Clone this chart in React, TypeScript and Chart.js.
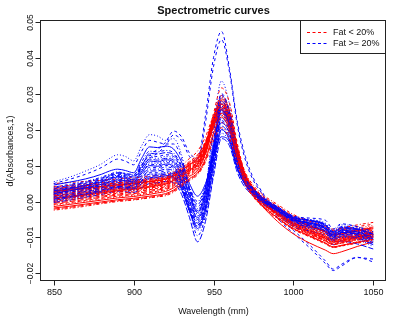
import React, { useEffect, useRef } from "react";
import { Chart, registerables } from "chart.js";

Chart.register(...registerables);

// Wavelengths (nm) at which the curves are sampled
const wavelengths = [850, 860, 870, 880, 885, 890, 895, 900, 905, 910, 915, 920, 925, 930, 935, 940, 945, 950, 955, 960, 965, 970, 975, 980, 990, 1000, 1010, 1020, 1025, 1030, 1040, 1050];

// d(Absorbances,1) values, in units of 1e-3, Fat < 20%
const redCurves: number[][] = [
  [-2.4, -1.9, -1.3, -0.6, -0.3, 0.0, 0.2, 0.4, 0.7, 1.0, 1.3, 1.6, 2.6, 4.2, 5.8, 7.4, 11.0, 17.0, 20.5, 17.5, 10.5, 4.5, 1.2, -1.2, -4.8, -7.8, -9.8, -11.8, -12.8, -12.4, -11.6, -10.8],
  [-1.8, -1.3, -0.7, -0.1, 0.2, 0.5, 0.7, 0.9, 1.2, 1.5, 1.8, 2.2, 3.2, 4.8, 6.4, 8.0, 12.0, 19.0, 23.5, 20.0, 12.0, 5.2, 1.6, -0.8, -4.5, -7.5, -9.5, -11.5, -12.6, -12.2, -11.3, -10.5],
  [-1.0, -0.5, 0.1, 0.7, 1.0, 1.3, 1.5, 1.7, 2.0, 2.3, 2.7, 3.1, 4.0, 5.5, 7.2, 8.8, 13.0, 21.0, 26.0, 22.5, 13.0, 5.6, 2.0, -0.5, -4.0, -7.0, -9.0, -11.0, -12.0, -11.6, -10.8, -10.0],
  [-0.5, 0.0, 0.6, 1.2, 1.5, 1.8, 2.0, 2.2, 2.5, 2.8, 3.2, 3.6, 4.6, 6.1, 7.8, 9.4, 13.5, 20.5, 24.5, 21.0, 12.5, 5.8, 2.3, 0.0, -3.5, -6.5, -8.5, -10.3, -11.3, -11.0, -10.2, -9.6],
  [0.0, 0.5, 1.1, 1.7, 2.0, 2.3, 2.5, 2.7, 3.0, 3.3, 3.7, 4.1, 5.1, 6.6, 8.2, 9.8, 14.0, 22.0, 27.5, 24.0, 14.5, 6.5, 2.5, 0.0, -3.8, -7.0, -9.2, -11.0, -12.0, -11.5, -10.5, -9.8],
  [0.4, 0.9, 1.5, 2.1, 2.4, 2.7, 2.9, 3.1, 3.4, 3.7, 4.1, 4.5, 5.5, 6.9, 8.4, 10.0, 14.5, 22.5, 27.0, 23.0, 13.5, 6.0, 2.2, -0.3, -3.6, -6.6, -8.6, -10.4, -11.4, -11.0, -10.0, -9.2],
  [0.8, 1.3, 1.8, 2.4, 2.7, 3.0, 3.2, 3.4, 3.7, 4.0, 4.4, 4.8, 5.8, 7.2, 8.7, 10.3, 14.5, 21.5, 25.5, 22.0, 13.0, 6.0, 2.4, 0.0, -3.2, -6.0, -8.0, -9.8, -10.8, -10.4, -9.6, -9.0],
  [1.2, 1.7, 2.2, 2.8, 3.1, 3.4, 3.6, 3.8, 4.1, 4.4, 4.8, 5.2, 6.1, 7.5, 9.0, 10.6, 15.0, 23.5, 29.0, 25.0, 15.0, 7.0, 2.8, 0.2, -3.4, -6.6, -8.8, -10.6, -11.6, -11.2, -10.2, -9.5],
  [1.6, 2.0, 2.5, 3.0, 3.3, 3.6, 3.8, 4.0, 4.3, 4.6, 5.0, 5.4, 6.3, 7.7, 9.2, 10.8, 14.8, 21.0, 24.5, 21.0, 12.5, 6.0, 2.8, 0.5, -2.8, -5.8, -7.8, -9.5, -10.5, -10.1, -9.3, -8.6],
  [2.0, 2.4, 2.9, 3.4, 3.7, 4.0, 4.2, 4.4, 4.7, 5.0, 5.3, 5.7, 6.6, 8.0, 9.5, 11.1, 15.5, 24.5, 31.6, 27.5, 16.0, 7.5, 3.2, 0.5, -3.3, -6.5, -8.8, -10.8, -11.8, -11.4, -10.3, -9.6],
  [2.4, 2.8, 3.2, 3.7, 4.0, 4.3, 4.5, 4.7, 5.0, 5.3, 5.6, 6.0, 6.9, 8.3, 9.8, 11.4, 15.5, 22.5, 26.5, 22.5, 13.5, 6.8, 3.2, 0.8, -2.5, -5.4, -7.4, -9.0, -10.0, -9.7, -8.9, -8.2],
  [2.8, 3.2, 3.6, 4.1, 4.4, 4.6, 4.8, 5.0, 5.3, 5.5, 5.8, 6.2, 7.1, 8.6, 10.2, 11.8, 16.0, 23.0, 27.0, 23.0, 14.0, 7.2, 3.6, 1.2, -2.0, -4.9, -6.9, -8.5, -9.4, -9.1, -8.3, -7.6],
  [3.2, 3.6, 4.0, 4.4, 4.7, 4.9, 5.1, 5.3, 5.5, 5.8, 6.1, 6.5, 7.4, 8.8, 10.4, 12.1, 15.8, 21.5, 24.0, 20.5, 12.5, 6.8, 3.6, 1.3, -1.8, -4.5, -6.5, -8.0, -8.8, -8.6, -7.8, -7.0],
  [3.6, 4.0, 4.4, 4.8, 5.0, 5.2, 5.4, 5.6, 5.8, 6.1, 6.4, 6.7, 7.6, 9.1, 10.8, 12.5, 16.5, 23.5, 28.0, 24.0, 14.5, 7.5, 3.8, 1.4, -1.9, -4.8, -6.8, -8.4, -9.3, -9.0, -8.1, -7.4],
  [4.2, 4.5, 4.9, 5.3, 5.5, 5.7, 5.9, 6.0, 6.2, 6.4, 6.7, 7.0, 7.9, 9.4, 11.2, 13.0, 16.8, 22.5, 25.5, 21.5, 13.5, 7.4, 4.0, 1.8, -1.2, -4.0, -5.8, -7.3, -8.1, -7.9, -7.0, -6.3],
  [5.0, 5.3, 5.6, 5.9, 6.1, 6.3, 6.5, 6.6, 6.8, 7.0, 7.2, 7.5, 8.4, 10.0, 12.0, 14.0, 18.0, 24.0, 27.5, 23.5, 14.5, 8.0, 4.5, 2.2, -0.8, -3.6, -5.4, -6.9, -7.7, -7.4, -6.5, -5.8],
  [-1.4, -0.8, -0.2, 0.4, 0.7, 1.0, 1.2, 1.4, 1.7, 2.0, 2.4, 2.8, 3.8, 5.3, 7.0, 8.6, 13.5, 22.0, 28.5, 25.0, 15.0, 6.2, 1.8, -1.0, -5.5, -9.0, -11.5, -13.5, -14.5, -14.0, -12.5, -11.2],
  [0.2, 0.7, 1.3, 1.9, 2.2, 2.5, 2.7, 2.9, 3.2, 3.5, 3.9, 4.3, 5.3, 6.8, 8.4, 10.0, 14.0, 20.5, 23.5, 20.0, 11.5, 5.0, 1.8, -0.6, -4.2, -7.4, -9.6, -11.6, -12.6, -12.2, -11.2, -10.4],
  [-2.1, -1.6, -1.0, -0.4, -0.1, 0.2, 0.4, 0.6, 0.9, 1.2, 1.5, 1.9, 2.9, 4.5, 6.1, 7.7, 11.5, 18.0, 22.0, 19.0, 11.2, 4.8, 1.4, -1.0, -4.6, -7.6, -9.6, -11.6, -12.7, -12.3, -11.4, -10.6],
  [-0.8, -0.3, 0.3, 0.9, 1.2, 1.5, 1.7, 1.9, 2.2, 2.5, 2.9, 3.3, 4.3, 5.8, 7.5, 9.1, 13.2, 20.8, 25.2, 21.6, 12.8, 5.7, 2.1, -0.3, -3.8, -6.8, -8.8, -10.7, -11.7, -11.3, -10.5, -9.8],
  [0.6, 1.1, 1.6, 2.2, 2.5, 2.8, 3.0, 3.2, 3.5, 3.8, 4.2, 4.6, 5.6, 7.0, 8.5, 10.1, 14.2, 21.8, 26.2, 22.4, 13.2, 6.0, 2.3, -0.1, -3.4, -6.3, -8.3, -10.1, -11.1, -10.7, -9.8, -9.1],
  [1.0, 1.5, 2.0, 2.6, 2.9, 3.2, 3.4, 3.6, 3.9, 4.2, 4.6, 5.0, 5.9, 7.3, 8.8, 10.4, 14.6, 22.3, 27.0, 23.2, 13.8, 6.4, 2.6, 0.1, -3.3, -6.3, -8.4, -10.2, -11.2, -10.8, -9.9, -9.2],
  [1.4, 1.9, 2.4, 2.9, 3.2, 3.5, 3.7, 3.9, 4.2, 4.5, 4.9, 5.3, 6.2, 7.6, 9.1, 10.7, 14.9, 22.0, 26.0, 22.2, 13.2, 6.4, 2.9, 0.4, -3.0, -6.0, -8.0, -9.8, -10.8, -10.4, -9.5, -8.8],
  [1.8, 2.2, 2.7, 3.2, 3.5, 3.8, 4.0, 4.2, 4.5, 4.8, 5.1, 5.5, 6.4, 7.8, 9.3, 11.0, 15.2, 23.0, 28.0, 24.0, 14.4, 6.9, 3.0, 0.5, -3.0, -6.1, -8.2, -10.1, -11.1, -10.7, -9.8, -9.1],
  [2.2, 2.6, 3.0, 3.5, 3.8, 4.1, 4.3, 4.5, 4.8, 5.1, 5.4, 5.8, 6.7, 8.1, 9.6, 11.2, 15.3, 22.0, 25.5, 21.8, 13.0, 6.4, 3.0, 0.6, -2.7, -5.6, -7.6, -9.3, -10.3, -9.9, -9.1, -8.4],
  [2.6, 3.0, 3.4, 3.9, 4.2, 4.4, 4.6, 4.8, 5.1, 5.4, 5.7, 6.1, 7.0, 8.4, 10.0, 11.6, 15.8, 23.5, 29.5, 25.5, 15.0, 7.2, 3.4, 0.9, -2.4, -5.3, -7.3, -9.0, -9.9, -9.5, -8.7, -8.0],
  [3.0, 3.4, 3.8, 4.2, 4.5, 4.7, 4.9, 5.1, 5.4, 5.6, 5.9, 6.3, 7.2, 8.7, 10.3, 12.0, 15.9, 22.2, 25.5, 21.8, 13.2, 7.0, 3.6, 1.2, -1.9, -4.7, -6.7, -8.2, -9.1, -8.8, -8.0, -7.3],
  [3.4, 3.8, 4.2, 4.6, 4.8, 5.0, 5.2, 5.4, 5.6, 5.9, 6.2, 6.6, 7.5, 9.0, 10.6, 12.3, 16.2, 22.8, 26.5, 22.6, 13.8, 7.2, 3.7, 1.3, -1.8, -4.6, -6.6, -8.2, -9.0, -8.7, -7.9, -7.2],
  [4.0, 4.3, 4.7, 5.1, 5.3, 5.5, 5.7, 5.8, 6.0, 6.3, 6.6, 6.9, 7.8, 9.3, 11.0, 12.8, 16.6, 23.0, 26.5, 22.6, 14.0, 7.6, 4.0, 1.6, -1.5, -4.3, -6.2, -7.7, -8.5, -8.2, -7.4, -6.7],
  [-0.2, 0.3, 0.9, 1.5, 1.8, 2.1, 2.3, 2.5, 2.8, 3.1, 3.5, 3.9, 4.9, 6.4, 8.0, 9.6, 13.8, 21.2, 25.8, 22.2, 13.2, 5.9, 2.2, -0.2, -3.9, -7.0, -9.1, -11.0, -12.0, -11.6, -10.7, -9.9],
];

// d(Absorbances,1) values, in units of 1e-3, Fat >= 20%
const blueCurves: number[][] = [
  [0.0, 0.8, 1.6, 2.6, 3.2, 3.6, 3.4, 3.1, 4.9, 6.2, 6.4, 6.8, 6.2, 3.0, -3.0, -8.0, -3.0, 9.0, 19.0, 16.5, 9.0, 4.5, 2.0, 0.0, -3.0, -6.5, -7.5, -8.8, -11.0, -10.0, -10.5, -12.5],
  [0.6, 1.4, 2.2, 3.2, 3.8, 4.2, 4.0, 3.7, 5.6, 7.0, 7.2, 7.6, 7.0, 3.8, -2.5, -7.0, -2.0, 10.5, 21.0, 18.0, 9.5, 4.8, 2.2, 0.2, -2.6, -5.6, -6.8, -8.2, -10.4, -9.2, -9.6, -11.5],
  [1.2, 2.0, 2.8, 3.8, 4.5, 5.0, 4.7, 4.3, 6.4, 8.0, 8.0, 8.5, 8.0, 4.5, -2.0, -6.5, -1.5, 11.5, 22.5, 19.5, 10.5, 5.2, 2.5, 0.4, -2.5, -5.4, -6.5, -7.8, -10.0, -8.8, -9.2, -11.0],
  [1.8, 2.6, 3.4, 4.4, 5.1, 5.6, 5.3, 4.9, 7.2, 9.0, 9.0, 9.6, 9.0, 5.5, -1.0, -5.5, -0.5, 12.5, 24.0, 20.5, 11.0, 5.5, 2.7, 0.5, -2.2, -5.0, -6.2, -7.5, -9.6, -8.4, -8.8, -10.4],
  [2.2, 3.0, 3.8, 4.8, 5.5, 6.0, 5.8, 5.4, 7.9, 10.0, 9.8, 10.4, 9.8, 6.0, 0.0, -4.5, 0.5, 13.5, 25.5, 21.5, 11.5, 5.8, 3.0, 0.8, -2.0, -4.8, -6.0, -7.2, -9.2, -8.0, -8.5, -10.0],
  [2.6, 3.4, 4.2, 5.3, 6.0, 6.5, 6.2, 5.8, 8.6, 10.8, 10.6, 11.2, 10.6, 7.0, 1.0, -3.5, 1.5, 14.5, 26.5, 22.5, 12.0, 6.0, 3.2, 1.0, -1.8, -4.5, -5.6, -6.8, -8.8, -7.6, -8.0, -9.5],
  [3.0, 3.8, 4.6, 5.7, 6.5, 7.0, 6.7, 6.2, 9.3, 11.8, 11.5, 12.0, 11.5, 8.0, 2.0, -2.5, 2.5, 15.5, 28.0, 23.5, 12.5, 6.2, 3.4, 1.2, -1.6, -4.2, -5.2, -6.4, -8.4, -7.2, -7.6, -9.0],
  [3.4, 4.2, 5.0, 6.2, 7.0, 7.6, 7.2, 6.8, 10.0, 12.8, 12.5, 13.0, 12.5, 9.0, 3.0, -1.5, 3.5, 16.5, 29.5, 24.5, 13.0, 6.5, 3.6, 1.4, -1.4, -4.0, -4.6, -5.2, -7.6, -6.2, -7.0, -8.4],
  [4.0, 4.8, 5.6, 6.8, 7.6, 8.2, 7.8, 7.4, 11.0, 14.0, 13.8, 14.2, 13.5, 10.0, 4.0, 0.0, 4.5, 14.0, 22.0, 19.0, 10.0, 5.2, 2.8, 0.8, -2.2, -5.0, -5.8, -7.2, -9.4, -8.2, -8.4, -9.8],
  [4.6, 5.4, 6.3, 7.6, 8.5, 9.0, 8.6, 8.0, 12.0, 15.2, 15.0, 15.4, 14.6, 11.0, 5.0, 1.5, 5.0, 12.5, 18.0, 16.5, 9.0, 4.8, 2.6, 0.6, -2.4, -5.2, -6.0, -7.5, -9.8, -8.6, -9.0, -10.5],
  [5.5, 6.8, 8.5, 10.5, 12.0, 13.0, 12.5, 11.3, 15.5, 18.6, 18.2, 17.0, 17.5, 13.0, 3.0, -5.0, 3.0, 21.0, 33.5, 27.0, 14.0, 6.5, 3.5, 1.5, -1.5, -4.5, -5.0, -6.0, -8.0, -6.5, -7.0, -9.0],
  [-0.3, 0.4, 1.2, 2.0, 2.5, 2.9, 2.7, 2.5, 3.9, 5.0, 5.2, 5.6, 5.2, 2.0, -4.5, -11.2, -5.5, 7.0, 17.5, 15.5, 8.0, 3.8, 1.6, -0.4, -3.5, -7.0, -8.2, -9.6, -12.0, -11.0, -11.8, -13.2],
  [5.0, 6.2, 7.6, 9.5, 10.8, 11.8, 11.2, 10.2, 14.0, 17.0, 16.5, 16.0, 16.0, 12.0, 3.5, -3.0, 4.0, 19.0, 30.0, 25.0, 13.0, 6.2, 3.3, 1.2, -1.8, -4.6, -5.2, -6.4, -8.6, -7.0, -7.6, -9.4],
  [1.0, 1.8, 2.6, 3.6, 4.2, 4.6, 4.4, 4.0, 5.9, 7.6, 7.6, 8.0, 7.6, 4.2, -2.2, -9.5, -4.0, 8.0, 20.0, 17.0, 9.0, 4.6, 2.1, 0.1, -2.8, -6.0, -7.0, -8.4, -10.8, -9.6, -10.2, -12.0],
  [0.3, 1.1, 1.9, 2.9, 3.5, 3.9, 3.7, 3.4, 5.0, 6.6, 6.8, 7.2, 6.6, 3.4, -2.8, -7.5, -2.5, 9.8, 20.0, 17.2, 9.2, 4.6, 2.1, 0.1, -2.8, -6.0, -7.2, -8.5, -10.7, -9.6, -10.0, -12.0],
  [0.9, 1.7, 2.5, 3.5, 4.1, 4.6, 4.3, 4.0, 5.8, 7.6, 7.6, 8.0, 7.5, 4.1, -2.2, -6.8, -1.8, 11.0, 21.8, 18.8, 10.0, 5.0, 2.3, 0.3, -2.5, -5.5, -6.6, -8.0, -10.2, -9.0, -9.4, -11.2],
  [1.5, 2.3, 3.1, 4.1, 4.8, 5.3, 5.0, 4.6, 6.6, 8.5, 8.5, 9.0, 8.5, 5.0, -1.5, -6.0, -1.0, 12.0, 23.2, 20.0, 10.8, 5.4, 2.6, 0.4, -2.3, -5.2, -6.4, -7.6, -9.8, -8.6, -9.0, -10.7],
  [2.0, 2.8, 3.6, 4.6, 5.3, 5.8, 5.5, 5.1, 7.2, 9.5, 9.4, 10.0, 9.4, 5.8, -0.5, -5.0, 0.0, 13.0, 24.8, 21.0, 11.2, 5.6, 2.8, 0.6, -2.1, -4.9, -6.1, -7.3, -9.4, -8.2, -8.6, -10.2],
  [2.4, 3.2, 4.0, 5.0, 5.8, 6.2, 6.0, 5.6, 7.8, 10.4, 10.2, 10.8, 10.2, 6.5, 0.5, -4.0, 1.0, 14.0, 26.0, 22.0, 11.8, 5.9, 3.1, 0.9, -1.9, -4.6, -5.8, -7.0, -9.0, -7.8, -8.2, -9.7],
  [2.8, 3.6, 4.4, 5.5, 6.2, 6.8, 6.4, 6.0, 8.4, 11.3, 11.0, 11.6, 11.0, 7.5, 1.5, -3.0, 2.0, 15.0, 27.2, 23.0, 12.2, 6.1, 3.3, 1.1, -1.7, -4.4, -5.4, -6.6, -8.6, -7.4, -7.8, -9.2],
  [3.2, 4.0, 4.8, 6.0, 6.8, 7.3, 7.0, 6.5, 9.0, 12.3, 12.0, 12.5, 12.0, 8.5, 2.5, -2.0, 3.0, 16.0, 28.8, 24.0, 12.8, 6.4, 3.5, 1.3, -1.5, -4.1, -5.0, -6.2, -8.2, -7.0, -7.4, -8.7],
  [3.7, 4.5, 5.3, 6.5, 7.3, 7.9, 7.5, 7.1, 9.8, 13.4, 13.2, 13.6, 13.0, 9.5, 3.5, -0.8, 4.0, 15.0, 25.0, 21.0, 11.2, 5.8, 3.2, 1.1, -1.8, -4.5, -5.2, -6.6, -8.8, -7.6, -7.8, -9.1],
];

// Two Fat >= 20% curves with the very tall peak (drawn last)
const blueTallCurves: number[][] = [
  [2.5, 3.5, 4.5, 6.0, 7.0, 8.0, 7.8, 7.5, 10.3, 13.0, 14.5, 16.5, 19.6, 18.0, 13.5, 12.0, 24.0, 40.0, 47.3, 37.0, 22.0, 12.5, 6.5, 3.0, -4.0, -8.0, -12.0, -16.5, -18.8, -17.5, -15.5, -16.8],
  [2.0, 3.0, 4.0, 5.4, 6.3, 7.2, 7.0, 6.8, 9.5, 12.0, 13.5, 15.5, 18.5, 17.0, 12.5, 11.0, 22.0, 37.5, 45.0, 36.0, 21.0, 11.5, 5.8, 2.5, -4.5, -8.8, -12.8, -17.2, -19.2, -18.0, -15.6, -16.0],
];

const xTicks = [850, 900, 950, 1000, 1050];
const yTicks = [-0.02, -0.01, 0, 0.01, 0.02, 0.03, 0.04, 0.05];
const yTickLabels = ["\u22120.02", "\u22120.01", "0.00", "0.01", "0.02", "0.03", "0.04", "0.05"];
const legendLabels = ["Fat < 20%", "Fat >= 20%"];
const chartTitle = "Spectrometric curves";
const xTitle = "Wavelength (mm)";
const yTitle = "d(Absorbances,1)";

const RED = "#FF0000";
const BLUE = "#0000FF";
const FONT = "'Liberation Sans', Arial, Helvetica, sans-serif";
const DASHES: number[][] = [[], [3, 3], [1, 2], [1, 2, 3, 2], [6, 2]];

const rStylePlugin = {
  id: "rStyle",
  afterDraw(chart: any) {
    const { ctx, chartArea: ca, scales } = chart;
    const xs = scales.x;
    const ys = scales.y;
    ctx.save();
    ctx.strokeStyle = "#222";
    ctx.fillStyle = "#111";
    ctx.lineWidth = 1;
    ctx.setLineDash([]);
    const L = Math.round(ca.left) - 0.5;
    const R = Math.round(ca.right) - 0.5;
    const T = Math.round(ca.top) - 0.5;
    const B = Math.round(ca.bottom) - 0.5;
    ctx.strokeRect(L, T, R - L, B - T);

    // x axis
    ctx.font = `9px ${FONT}`;
    ctx.textAlign = "center";
    ctx.textBaseline = "middle";
    const x0 = Math.round(xs.getPixelForValue(xTicks[0])) + 0.5;
    const x1 = Math.round(xs.getPixelForValue(xTicks[xTicks.length - 1])) + 0.5;
    ctx.beginPath();
    ctx.moveTo(x0, B);
    ctx.lineTo(x1, B);
    ctx.stroke();
    xTicks.forEach((v) => {
      const px = Math.round(xs.getPixelForValue(v)) + 0.5;
      ctx.beginPath();
      ctx.moveTo(px, B);
      ctx.lineTo(px, B + 5);
      ctx.stroke();
      ctx.fillText(String(v), px, B + 12);
    });

    // y axis
    const y0 = Math.round(ys.getPixelForValue(yTicks[0])) + 0.5;
    const y1 = Math.round(ys.getPixelForValue(yTicks[yTicks.length - 1])) + 0.5;
    ctx.beginPath();
    ctx.moveTo(L, y0);
    ctx.lineTo(L, y1);
    ctx.stroke();
    ctx.font = `8.5px ${FONT}`;
    yTicks.forEach((v, i) => {
      const py = Math.round(ys.getPixelForValue(v)) + 0.5;
      ctx.beginPath();
      ctx.moveTo(L, py);
      ctx.lineTo(L - 5, py);
      ctx.stroke();
      ctx.save();
      ctx.translate(L - 9.5, py);
      ctx.rotate(-Math.PI / 2);
      ctx.fillText(yTickLabels[i], 0, 0);
      ctx.restore();
    });

    // titles
    const cx = (ca.left + ca.right) / 2;
    const cy = (ca.top + ca.bottom) / 2;
    ctx.font = `bold 11px ${FONT}`;
    ctx.fillText(chartTitle, cx, 11);
    ctx.font = `9px ${FONT}`;
    ctx.fillText(xTitle, cx, 312);
    ctx.save();
    ctx.translate(11, cy);
    ctx.rotate(-Math.PI / 2);
    ctx.fillText(yTitle, 0, 0);
    ctx.restore();

    // legend
    const lx = 300.5;
    const ly = T;
    const lw = R - lx;
    const lh = 33;
    ctx.fillStyle = "#fff";
    ctx.fillRect(lx, ly, lw, lh);
    ctx.strokeStyle = "#222";
    ctx.strokeRect(lx, ly, lw, lh);
    const colors = [RED, BLUE];
    ctx.textAlign = "left";
    ctx.font = `9px ${FONT}`;
    legendLabels.forEach((lab, i) => {
      const yy = ly + 12 + i * 11;
      ctx.strokeStyle = colors[i];
      ctx.setLineDash([3, 2.5]);
      ctx.beginPath();
      ctx.moveTo(307, yy);
      ctx.lineTo(328, yy);
      ctx.stroke();
      ctx.setLineDash([]);
      ctx.fillStyle = "#111";
      ctx.fillText(lab, 333, yy);
    });
    ctx.restore();
  },
};

export default function App() {
  const canvasRef = useRef<HTMLCanvasElement | null>(null);

  useEffect(() => {
    if (!canvasRef.current) return;
    const toPoints = (vals: number[]) =>
      wavelengths.map((w, i) => ({ x: w, y: vals[i] / 1000 }));

    const curves: { vals: number[]; color: string }[] = [];
    const n = Math.max(redCurves.length, blueCurves.length);
    for (let i = 0; i < n; i++) {
      if (blueCurves[i]) curves.push({ vals: blueCurves[i], color: BLUE });
      if (redCurves[i]) curves.push({ vals: redCurves[i], color: RED });
    }
    const datasets: any[] = curves.map((c, i) => ({
      data: toPoints(c.vals),
      borderColor: c.color,
      borderWidth: 1,
      borderDash: DASHES[(i + 2) % DASHES.length],
      pointRadius: 0,
      fill: false,
      cubicInterpolationMode: "monotone",
    }));
    blueTallCurves.forEach((vals) => {
      datasets.push({
        data: toPoints(vals),
        borderColor: BLUE,
        borderWidth: 1,
        borderDash: [3, 3],
        pointRadius: 0,
        fill: false,
        cubicInterpolationMode: "monotone",
      });
    });

    const chart = new Chart(canvasRef.current, {
      type: "line",
      data: { datasets },
      options: {
        animation: false,
        responsive: false,
        events: [],
        layout: { padding: { left: 41, right: 12, top: 21, bottom: 37 } },
        plugins: {
          legend: { display: false },
          title: { display: false },
          tooltip: { enabled: false },
        },
        scales: {
          x: { type: "linear", min: 842, max: 1058, display: false },
          y: { type: "linear", min: -0.0221, max: 0.0502, display: false },
        },
      },
      plugins: [rStylePlugin],
    });
    return () => chart.destroy();
  }, []);

  return (
    <div style={{ position: "fixed", left: 0, top: 0, width: 398, height: 318, background: "#fff" }}>
      <canvas ref={canvasRef} width={398} height={318} style={{ display: "block", width: 398, height: 318 }} />
    </div>
  );
}
